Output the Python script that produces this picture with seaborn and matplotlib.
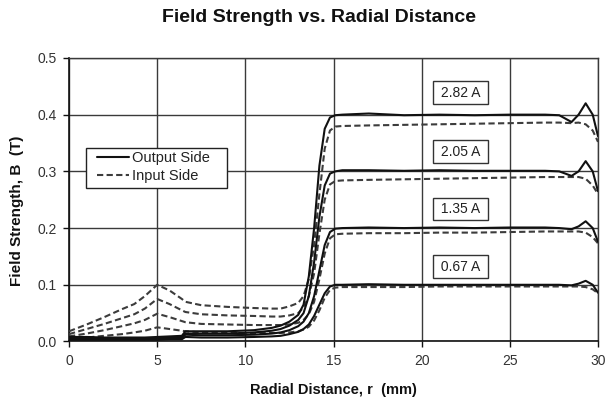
import matplotlib
matplotlib.use("Agg")
import matplotlib.pyplot as plt
from matplotlib.lines import Line2D
from matplotlib.patches import Rectangle
import seaborn as sns
import pandas as pd

# Radial positions (mm) shared by all measured profiles
radius = [0, 1, 2, 3, 3.7, 4.3, 5, 5.7, 6.4, 6.6,
          7.5, 9, 10.5, 11.5, 12, 12.5, 13, 13.3, 13.6, 13.9,
          14.2, 14.5, 14.8, 15.1, 15.5, 17, 19, 21, 23, 25,
          27, 27.8, 28.5, 28.9, 29.3, 29.7, 30]

currents = ["2.82 A", "2.05 A", "1.35 A", "0.67 A"]

# Output side (solid) field strength, T
out_282 = [0.008, 0.008, 0.007, 0.007, 0.007, 0.007, 0.008, 0.009, 0.010, 0.018,
           0.018, 0.018, 0.020, 0.024, 0.028, 0.035, 0.047, 0.065, 0.115, 0.200,
           0.310, 0.375, 0.395, 0.399, 0.400, 0.402, 0.399, 0.400, 0.399, 0.400,
           0.400, 0.399, 0.387, 0.400, 0.420, 0.400, 0.362]
out_205 = [0.006, 0.006, 0.005, 0.005, 0.005, 0.005, 0.006, 0.007, 0.008, 0.014,
           0.014, 0.014, 0.016, 0.019, 0.022, 0.028, 0.038, 0.050, 0.080, 0.140,
           0.220, 0.275, 0.296, 0.300, 0.302, 0.302, 0.301, 0.302, 0.301, 0.301,
           0.301, 0.300, 0.292, 0.300, 0.318, 0.300, 0.265]
out_135 = [0.004, 0.004, 0.004, 0.004, 0.004, 0.004, 0.005, 0.005, 0.006, 0.012,
           0.011, 0.011, 0.012, 0.014, 0.016, 0.020, 0.027, 0.035, 0.050, 0.080,
           0.125, 0.170, 0.193, 0.199, 0.200, 0.201, 0.200, 0.201, 0.200, 0.201,
           0.201, 0.200, 0.198, 0.203, 0.212, 0.200, 0.176]
out_067 = [0.003, 0.003, 0.003, 0.003, 0.003, 0.003, 0.003, 0.004, 0.004, 0.008,
           0.007, 0.007, 0.008, 0.009, 0.010, 0.013, 0.017, 0.022, 0.030, 0.045,
           0.065, 0.085, 0.097, 0.100, 0.100, 0.101, 0.100, 0.100, 0.100, 0.100,
           0.100, 0.100, 0.099, 0.102, 0.107, 0.100, 0.086]

# Input side (dashed) field strength, T
in_282 = [0.018, 0.030, 0.043, 0.057, 0.066, 0.080, 0.100, 0.090, 0.075, 0.070,
          0.064, 0.061, 0.059, 0.058, 0.058, 0.062, 0.068, 0.080, 0.110, 0.170,
          0.260, 0.340, 0.372, 0.379, 0.380, 0.381, 0.382, 0.383, 0.384, 0.385,
          0.386, 0.386, 0.385, 0.386, 0.383, 0.372, 0.352]
in_205 = [0.013, 0.022, 0.031, 0.041, 0.048, 0.058, 0.075, 0.066, 0.055, 0.052,
          0.048, 0.046, 0.045, 0.044, 0.044, 0.046, 0.050, 0.060, 0.080, 0.120,
          0.190, 0.250, 0.277, 0.283, 0.284, 0.285, 0.286, 0.287, 0.288, 0.289,
          0.290, 0.290, 0.290, 0.290, 0.287, 0.275, 0.260]
in_135 = [0.009, 0.014, 0.020, 0.027, 0.032, 0.038, 0.049, 0.043, 0.036, 0.034,
          0.031, 0.030, 0.029, 0.029, 0.029, 0.030, 0.033, 0.038, 0.048, 0.070,
          0.110, 0.155, 0.182, 0.189, 0.190, 0.191, 0.191, 0.192, 0.192, 0.193,
          0.194, 0.194, 0.194, 0.194, 0.192, 0.184, 0.173]
in_067 = [0.005, 0.007, 0.010, 0.013, 0.016, 0.019, 0.025, 0.022, 0.019, 0.018,
          0.016, 0.015, 0.015, 0.015, 0.015, 0.016, 0.018, 0.021, 0.026, 0.037,
          0.055, 0.077, 0.091, 0.095, 0.096, 0.096, 0.096, 0.097, 0.097, 0.097,
          0.097, 0.097, 0.097, 0.097, 0.096, 0.092, 0.085]

# Label box positions for each current (r, B)
label_r = [22.2, 22.2, 22.2, 22.2]
label_b = [0.439, 0.335, 0.234, 0.132]

output_side = [out_282, out_205, out_135, out_067]
input_side = [in_282, in_205, in_135, in_067]

rows = []
for cur, o_vals, i_vals in zip(currents, output_side, input_side):
    for r, v in zip(radius, o_vals):
        rows.append({"r": r, "B": v, "current": cur, "side": "Output Side"})
    for r, v in zip(radius, i_vals):
        rows.append({"r": r, "B": v, "current": cur, "side": "Input Side"})
df = pd.DataFrame(rows)

sns.set_theme(style="white")
plt.rcParams["font.family"] = ["Liberation Sans", "DejaVu Sans"]

fig = plt.figure(figsize=(6.06, 4.08), dpi=100)
ax = fig.add_axes([0.1139, 0.163, 0.8729, 0.695])

grid_col = "#3a3a3a"
dash_col = "#3c3c3c"
dash_style = (0, (3, 1.6))
for cur in currents:
    sub = df[df["current"] == cur]
    sns.lineplot(data=sub[sub["side"] == "Input Side"], x="r", y="B", ax=ax,
                 color=dash_col, linewidth=1.5, linestyle=dash_style,
                 legend=False, zorder=3)
    sns.lineplot(data=sub[sub["side"] == "Output Side"], x="r", y="B", ax=ax,
                 color="#111111", linewidth=1.5, legend=False, zorder=4)

ax.set_xlim(0, 30)
ax.set_ylim(0, 0.5)
ax.set_xticks([0, 5, 10, 15, 20, 25, 30])
ax.set_yticks([0.0, 0.1, 0.2, 0.3, 0.4, 0.5])
ax.set_yticklabels(["0.0", "0.1", "0.2", "0.3", "0.4", "0.5"])
ax.grid(True, color=grid_col, linewidth=1.0)
ax.set_axisbelow(True)
for side in ["top", "right"]:
    ax.spines[side].set_color(grid_col)
    ax.spines[side].set_linewidth(1.0)
for side in ["left", "bottom"]:
    ax.spines[side].set_color("#111111")
    ax.spines[side].set_linewidth(1.2)
ax.tick_params(axis="both", direction="out", length=4, width=1, color="#111111",
               labelsize=10, labelcolor="#333333", pad=5,
               bottom=True, left=True)

ax.set_xlabel("Radial Distance, r  (mm)", fontsize=10.5, fontweight="bold",
              color="#111111", labelpad=11)
ax.set_ylabel("Field Strength, B  (T)", fontsize=11, fontweight="bold",
              color="#111111", labelpad=14)
ax.yaxis.set_label_coords(-0.086, 0.46)

fig.text(0.527, 0.957, "Field Strength vs. Radial Distance", ha="center",
         va="center", fontsize=14, fontweight="bold", color="#111111")

for cur, lr, lb in zip(currents, label_r, label_b):
    ax.text(lr, lb, " " + cur + " ", ha="center", va="center", fontsize=10,
            color="#222222", zorder=6,
            bbox=dict(boxstyle="square,pad=0.3", fc="white", ec="#333333", lw=1))

# Legend frame drawn separately so its padding can be wider than tall
ax.add_patch(Rectangle((0.032, 0.541), 0.267, 0.142, transform=ax.transAxes,
                       facecolor="white", edgecolor="#222222", lw=1.0, zorder=7))
handles = [Line2D([], [], color="#111111", lw=1.5),
           Line2D([], [], color=dash_col, lw=1.5, linestyle=dash_style)]
leg = ax.legend(handles, ["Output Side", "Input Side"], loc="upper left",
                bbox_to_anchor=(0.052, 0.672), fontsize=10.5, frameon=False,
                handlelength=2.2, handletextpad=0.2, borderpad=0,
                labelspacing=0.3, borderaxespad=0)
leg.set_zorder(8)
for t in leg.get_texts():
    t.set_color("#222222")

fig.savefig("out.png", dpi=100, facecolor="white")
